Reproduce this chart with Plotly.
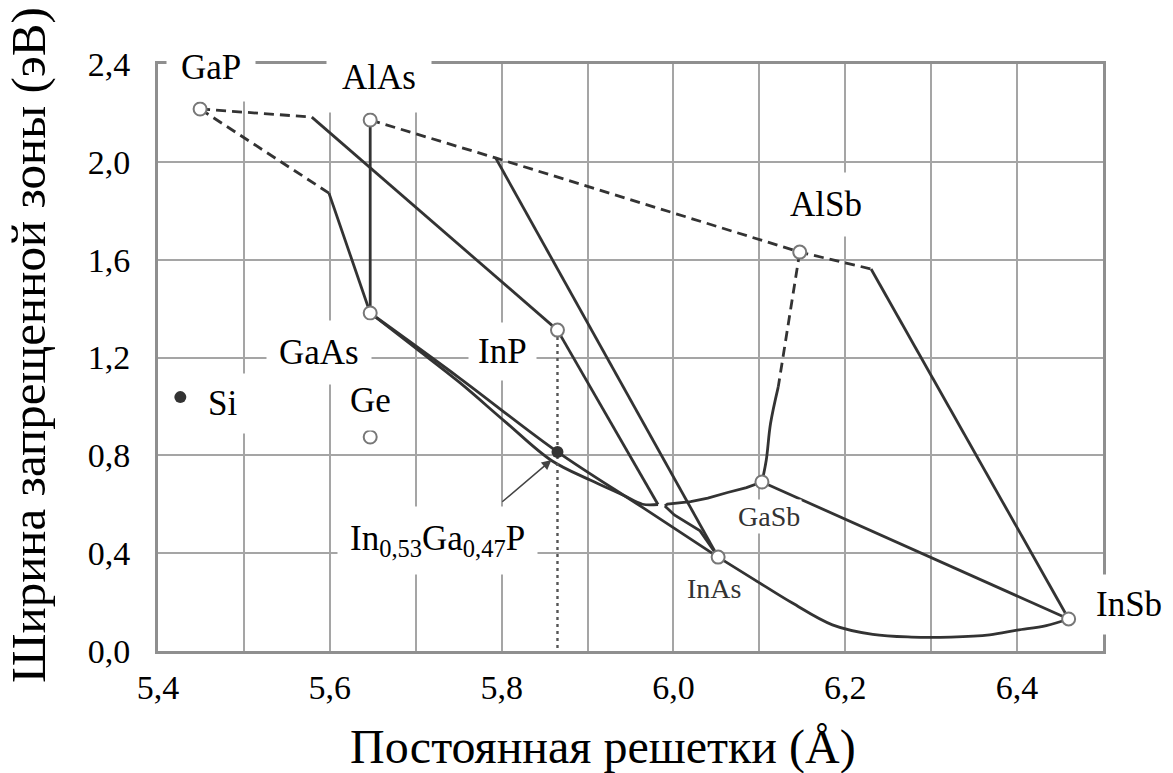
import plotly.graph_objects as go

# ---------------- data ----------------
# binary compounds: lattice constant (Å) and band gap (eV)
mat_names = ["GaP", "AlAs", "GaAs", "InP", "AlSb", "GaSb", "InAs", "InSb", "Ge"]
mat_a = [5.449, 5.647, 5.647, 5.865, 6.147, 6.103, 6.052, 6.460, 5.647]
mat_eg = [2.216, 2.171, 1.382, 1.312, 1.631, 0.691, 0.384, 0.131, 0.875]

# filled points: Si and In0.53Ga0.47 point
filled_a = [5.426, 5.865]
filled_eg = [1.038, 0.814]

# solid straight curves (lattice constant list, band gap list)
gap_inp_a = [5.579, 5.865]
gap_inp_eg = [2.183, 1.312]
gap_gaas_a = [5.599, 5.647]
gap_gaas_eg = [1.872, 1.382]
alas_gaas_a = [5.647, 5.647]
alas_gaas_eg = [2.171, 1.382]
alinsb_a = [6.230, 6.460]
alinsb_eg = [1.562, 0.131]
alinas_a = [5.793, 6.052]
alinas_eg = [2.016, 0.384]
tip_inp_a = [5.982, 5.865]
tip_inp_eg = [0.599, 1.312]
hook_inas_a = [5.990, 6.001, 6.031, 6.052]
hook_inas_eg = [0.593, 0.556, 0.491, 0.384]
gasb_insb_a = [6.103, 6.460]
gasb_insb_eg = [0.691, 0.131]

# solid bowed curves
gainas_a = [5.647, 5.751, 5.865, 5.964, 6.052]
gainas_eg = [1.382, 1.116, 0.814, 0.587, 0.384]
lower_a = [5.647, 5.700, 5.751, 5.805, 5.858, 5.903, 5.941, 5.964, 5.982]
lower_eg = [1.382, 1.238, 1.098, 0.935, 0.779, 0.699, 0.638, 0.600, 0.599]
gasb_hook_a = [6.103, 6.085, 6.063, 6.040, 6.020, 6.003, 5.993, 5.990]
gasb_hook_eg = [0.691, 0.668, 0.648, 0.625, 0.611, 0.604, 0.601, 0.593]
gasb_up_a = [6.103, 6.108, 6.113, 6.122]
gasb_up_eg = [0.691, 0.780, 0.930, 1.080]
inas_insb_a = [6.052, 6.095, 6.138, 6.185, 6.232, 6.277, 6.323, 6.368, 6.400, 6.434, 6.460]
inas_insb_eg = [0.384, 0.290, 0.197, 0.107, 0.068, 0.057, 0.057, 0.066, 0.085, 0.104, 0.131]

# dashed (indirect) curves
gap_d1_a = [5.449, 5.579]
gap_d1_eg = [2.216, 2.183]
gap_d2_a = [5.449, 5.599]
gap_d2_eg = [2.216, 1.872]
alas_alsb_a = [5.647, 5.793, 6.147, 6.230]
alas_alsb_eg = [2.171, 2.016, 1.631, 1.562]
alsb_gasb_a = [6.147, 6.122]
alsb_gasb_eg = [1.631, 1.080]

# dotted vertical line at InP lattice constant
inp_line_a = [5.865, 5.865]
inp_line_eg = [1.312, 0.0]

# text labels inside the plot (data coordinates)
lab_text = ["GaP", "AlAs", "AlSb", "GaAs", "InP", "Ge", "Si",
            "In<sub>0,53</sub>Ga<sub>0,47</sub>P"]
lab_a = [5.4622, 5.6571, 6.1772, 5.5873, 5.8014, 5.6478, 5.4756, 5.7258]
lab_eg = [2.3876, 2.3467, 1.8275, 1.2224, 1.2265, 1.0262, 1.0139, 0.4500]
lab_pad = [14, 15, 12, 12, 9, 10, 10, 12]

small_text = ["GaSb", "InAs"]
small_a = [6.1109, 6.0469]
small_eg = [0.5519, 0.2576]

# InSb label sits just outside the right frame (paper x, data y)
insb_text = "InSb"
insb_paper_x = 1.0275
insb_eg = 0.1881

x_ticks = [5.4, 5.6, 5.8, 6.0, 6.2, 6.4]
x_ticktext = ["5,4", "5,6", "5,8", "6,0", "6,2", "6,4"]
y_ticks = [0.0, 0.4, 0.8, 1.2, 1.6, 2.0, 2.4]
y_ticktext = ["0,0", "0,4", "0,8", "1,2", "1,6", "2,0", "2,4"]

x_title = "Постоянная решетки (Å)"
y_title = "Ширина запрещенной зоны (эВ)"

# ---------------- figure ----------------
LINE = "#333333"
FONT = "Liberation Serif, Times New Roman, serif"
LW = 2.8
fig = go.Figure()

solid = [(gap_inp_a, gap_inp_eg), (gap_gaas_a, gap_gaas_eg), (alas_gaas_a, alas_gaas_eg),
         (alinsb_a, alinsb_eg), (alinas_a, alinas_eg), (tip_inp_a, tip_inp_eg),
         (hook_inas_a, hook_inas_eg), (gasb_insb_a, gasb_insb_eg),
         (gasb_hook_a, gasb_hook_eg)]
for xa, ya in solid:
    fig.add_trace(go.Scatter(x=xa, y=ya, mode="lines",
                             line=dict(color=LINE, width=LW), hoverinfo="skip"))
bowed = [(gainas_a, gainas_eg), (lower_a, lower_eg), (inas_insb_a, inas_insb_eg),
         (gasb_up_a, gasb_up_eg)]
for xa, ya in bowed:
    fig.add_trace(go.Scatter(x=xa, y=ya, mode="lines",
                             line=dict(color=LINE, width=LW, shape="spline", smoothing=1.0),
                             hoverinfo="skip"))

dashed = [(gap_d1_a, gap_d1_eg), (gap_d2_a, gap_d2_eg), (alas_alsb_a, alas_alsb_eg),
          (alsb_gasb_a, alsb_gasb_eg)]
for xa, ya in dashed:
    fig.add_trace(go.Scatter(x=xa, y=ya, mode="lines",
                             line=dict(color=LINE, width=LW, dash="10px,6px"),
                             hoverinfo="skip"))

fig.add_trace(go.Scatter(x=inp_line_a, y=inp_line_eg, mode="lines",
                         line=dict(color="#555555", width=2.4, dash="3px,4px"),
                         hoverinfo="skip"))

fig.add_trace(go.Scatter(x=mat_a, y=mat_eg, mode="markers",
                         marker=dict(size=13, color="white",
                                     line=dict(color="#777777", width=2)),
                         hoverinfo="skip"))
fig.add_trace(go.Scatter(x=filled_a, y=filled_eg, mode="markers",
                         marker=dict(size=12, color="#333333"), hoverinfo="skip"))

for t, xa, ya, p in zip(lab_text, lab_a, lab_eg, lab_pad):
    fig.add_annotation(x=xa, y=ya, text=t, showarrow=False, bgcolor="white",
                       xanchor="center", yanchor="middle",
                       borderpad=p, font=dict(family=FONT, size=35, color="black"))
for t, xa, ya in zip(small_text, small_a, small_eg):
    fig.add_annotation(x=xa, y=ya, text=t, showarrow=False,
                       xanchor="center", yanchor="middle",
                       bgcolor="white" if t == "GaSb" else "rgba(0,0,0,0)", borderpad=1,
                       font=dict(family=FONT, size=28, color="#333333"))
fig.add_annotation(xref="paper", yref="y", x=insb_paper_x, y=insb_eg, text=insb_text,
                   showarrow=False, xanchor="center", yanchor="middle",
                   bgcolor="white", borderpad=10,
                   font=dict(family=FONT, size=35, color="black"))

# arrow to the In0.53Ga0.47 point
fig.add_annotation(x=5.858, y=0.781, ax=5.799, ay=0.605, axref="x", ayref="y",
                   xref="x", yref="y", text="", showarrow=True, arrowhead=2,
                   arrowsize=1.3, arrowwidth=1.5, arrowcolor="#444444")

# axis titles
fig.add_annotation(xref="paper", yref="paper", x=0.4709, y=-0.1635, text=x_title,
                   showarrow=False, xanchor="center", yanchor="middle",
                   font=dict(family=FONT, size=48, color="black"))
fig.add_annotation(xref="paper", yref="paper", x=-0.1365, y=0.5213, text=y_title,
                   textangle=-90, showarrow=False, xanchor="center", yanchor="middle",
                   font=dict(family=FONT, size=49, color="black"))

GRID = "#a5a5a5"
fig.update_layout(
    width=1173, height=773, autosize=False,
    margin=dict(l=158, r=70, t=64, b=122),
    paper_bgcolor="white", plot_bgcolor="white", showlegend=False,
    xaxis=dict(range=[5.4, 6.5], tickvals=x_ticks, ticktext=x_ticktext,
               showgrid=True, gridcolor=GRID, gridwidth=2,
               minor=dict(dtick=0.1, tick0=5.4, showgrid=True, gridcolor=GRID, gridwidth=2),
               showline=True, mirror=True, linecolor="#8f8f8f", linewidth=3,
               ticks="", zeroline=False, ticklabelstandoff=4,
               tickfont=dict(family=FONT, size=34, color="black")),
    yaxis=dict(range=[0, 2.4], tickvals=y_ticks, ticktext=y_ticktext,
               showgrid=True, gridcolor=GRID, gridwidth=2,
               showline=True, mirror=True, linecolor="#8f8f8f", linewidth=3,
               ticks="", zeroline=False, ticklabelstandoff=18,
               tickfont=dict(family=FONT, size=34, color="black")),
)

fig.write_html("out.html")
